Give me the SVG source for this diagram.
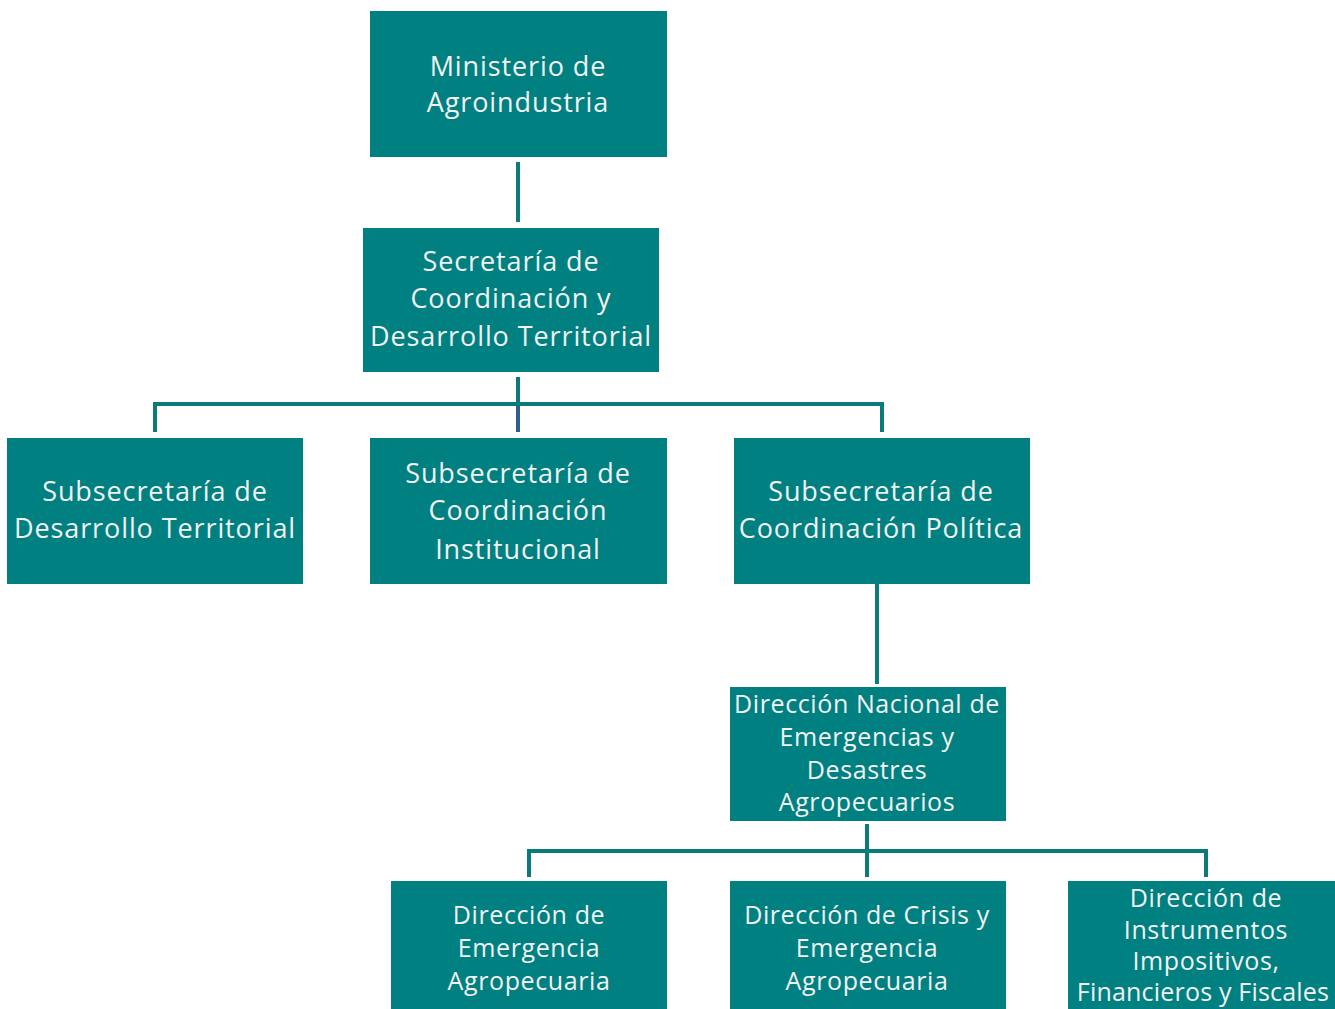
<svg xmlns="http://www.w3.org/2000/svg" width="1335" height="1009" viewBox="0 0 1335 1009">
<style>
.box{fill:#008080}
.t{fill:#f2f2f2;font-family:"Open Sans","Liberation Sans",sans-serif;font-size:27px;letter-spacing:0.9px;text-anchor:middle;dominant-baseline:central}
.s{font-size:25px;letter-spacing:0.6px}
.c{stroke:#0a7a7a;stroke-width:4;fill:none}
</style>
<rect width="1335" height="1009" fill="#ffffff"/>
<g id="connectors">
<path class="c" d="M518 162V222"/>
<path class="c" d="M518 377V404"/>
<path class="c" d="M518 404V432" style="stroke:#2f5f8f"/>
<path class="c" d="M155 432V404H882V432"/>
<path class="c" d="M877 584V684"/>
<path class="c" d="M867 824V851"/>
<path class="c" d="M529 877V851H1206V877"/>
<path class="c" d="M867 851V877"/>
</g>
<g id="ministerio">
<rect class="box" x="370" y="11" width="297" height="146"/>
<text class="t" x="518" y="65">Ministerio de</text>
<text class="t" x="518" y="101">Agroindustria</text>
</g>
<g id="secretaria">
<rect class="box" x="363" y="228" width="296" height="144"/>
<text class="t" x="511" y="260">Secretaría de</text>
<text class="t" x="511" y="297">Coordinación y</text>
<text class="t" x="511" y="335">Desarrollo Territorial</text>
</g>
<g id="sub-desarrollo">
<rect class="box" x="7" y="438" width="296" height="146"/>
<text class="t" x="155" y="490">Subsecretaría de</text>
<text class="t" x="155" y="527">Desarrollo Territorial</text>
</g>
<g id="sub-institucional">
<rect class="box" x="370" y="438" width="297" height="146"/>
<text class="t" x="518" y="472">Subsecretaría de</text>
<text class="t" x="518" y="509">Coordinación</text>
<text class="t" x="518" y="548">Institucional</text>
</g>
<g id="sub-politica">
<rect class="box" x="734" y="438" width="296" height="146"/>
<text class="t" x="881" y="490">Subsecretaría de</text>
<text class="t" x="881" y="527">Coordinación Política</text>
</g>
<g id="dn-emergencias">
<rect class="box" x="730" y="687" width="276" height="134"/>
<text class="t s" x="867" y="703">Dirección Nacional de</text>
<text class="t s" x="867" y="736">Emergencias y</text>
<text class="t s" x="867" y="769">Desastres</text>
<text class="t s" x="867" y="801">Agropecuarios</text>
</g>
<g id="d-emergencia">
<rect class="box" x="391" y="881" width="276" height="128"/>
<text class="t s" x="529" y="914">Dirección de</text>
<text class="t s" x="529" y="947">Emergencia</text>
<text class="t s" x="529" y="980">Agropecuaria</text>
</g>
<g id="d-crisis">
<rect class="box" x="730" y="881" width="276" height="128"/>
<text class="t s" x="867" y="914">Dirección de Crisis y</text>
<text class="t s" x="867" y="947">Emergencia</text>
<text class="t s" x="867" y="980">Agropecuaria</text>
</g>
<g id="d-instrumentos">
<rect class="box" x="1068" y="881" width="267" height="128"/>
<text class="t s" x="1206" y="897">Dirección de</text>
<text class="t s" x="1206" y="929">Instrumentos</text>
<text class="t s" x="1206" y="960">Impositivos,</text>
<text class="t s" x="1203" y="991" style="letter-spacing:0.2px">Financieros y Fiscales</text>
</g>
</svg>
